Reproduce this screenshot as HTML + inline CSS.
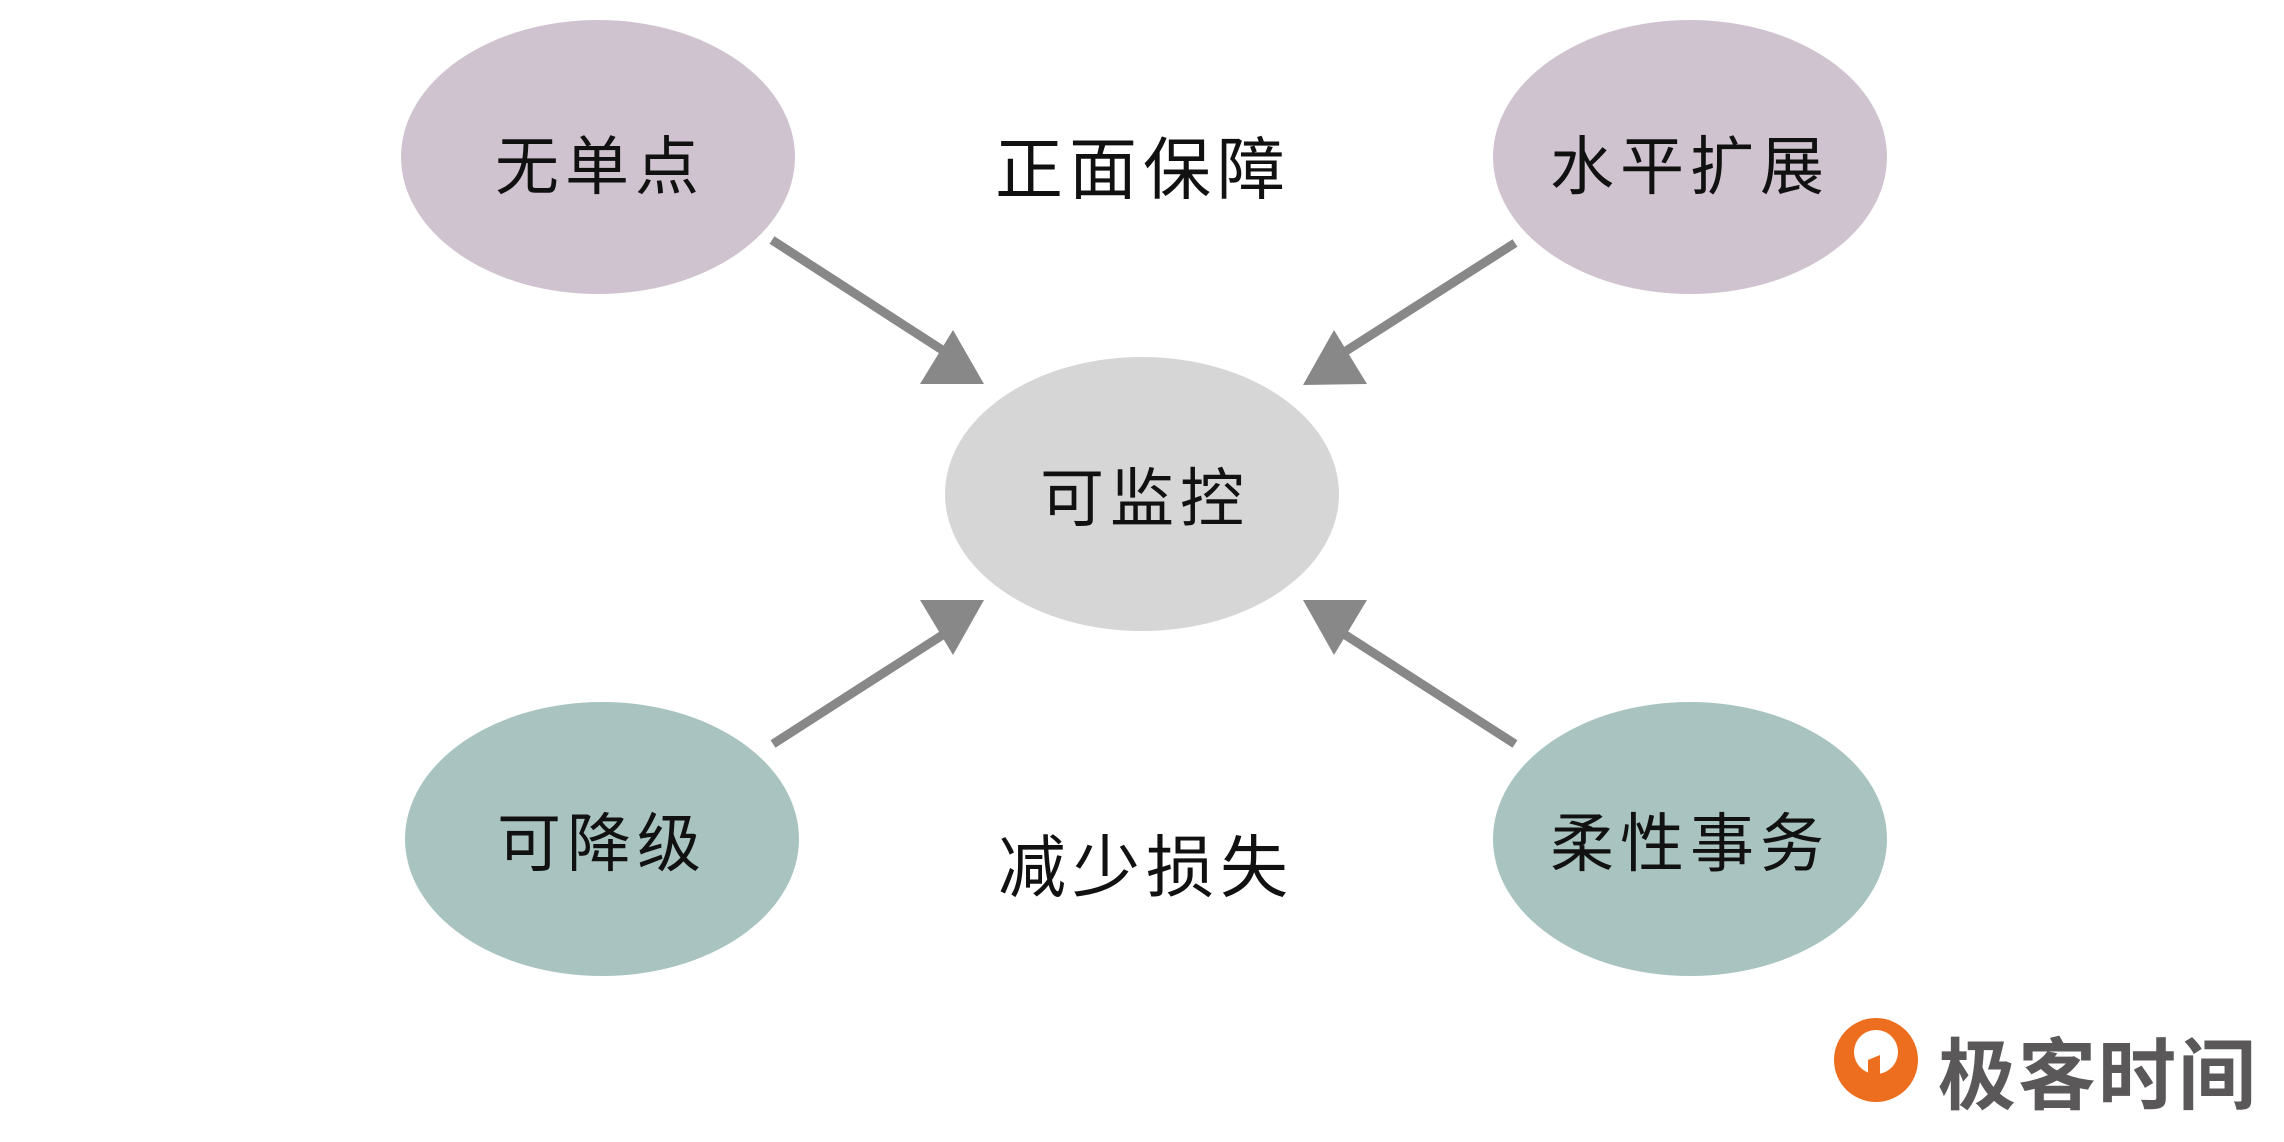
<!DOCTYPE html>
<html><head><meta charset="utf-8"><style>
html,body{margin:0;padding:0;background:#fff;}
body{width:2284px;height:1142px;position:relative;overflow:hidden;font-family:"Liberation Sans","Noto Sans CJK SC",sans-serif;}
.t{position:absolute;transform:translate(-50%,-50%);white-space:nowrap;color:#111;font-size:64px;letter-spacing:6px;}
</style></head><body>
<svg width="2284" height="1142" style="position:absolute;left:0;top:0">
<ellipse cx="598" cy="157" rx="197" ry="137" fill="#d0c3d0"/>
<ellipse cx="1690" cy="157" rx="197" ry="137" fill="#d0c3d0"/>
<ellipse cx="1142" cy="494" rx="197" ry="137" fill="#d6d6d6"/>
<ellipse cx="602" cy="839" rx="197" ry="137" fill="#a9c4c0"/>
<ellipse cx="1690" cy="839" rx="197" ry="137" fill="#a9c4c0"/>
<g stroke="#888" stroke-width="9" fill="#888">
<line x1="772" y1="240" x2="950" y2="355"/>
<line x1="1515" y1="243" x2="1335" y2="358"/>
<line x1="773" y1="744" x2="955" y2="627"/>
<line x1="1515" y1="744" x2="1333" y2="627"/>
</g>
<g fill="#888">
<polygon points="984,384 920,384 953,330"/>
<polygon points="1303,385 1367,384 1334,330"/>
<polygon points="984,600 920,600 953,655"/>
<polygon points="1303,600 1367,600 1334,655"/>
</g>
<g>
<circle cx="1876" cy="1060" r="42" fill="#ec6e1e"/>
<circle cx="1876" cy="1052" r="22" fill="#fff"/>
<polygon points="1868,1060 1880,1055 1880,1100 1868,1100" fill="#ec6e1e"/>
</g>
</svg>
<div class="t" style="left:600px;top:162px;">无单点</div>
<div class="t" style="left:1690px;top:162px;">水平扩展</div>
<div class="t" style="left:1145px;top:494px;">可监控</div>
<div class="t" style="left:602px;top:839px;">可降级</div>
<div class="t" style="left:1690px;top:839px;">柔性事务</div>
<div class="t" style="left:1143px;top:164px;font-size:68px;">正面保障</div>
<div class="t" style="left:1146px;top:862px;font-size:68px;">减少损失</div>
<div class="t" style="left:2098px;top:1070px;font-size:78px;color:#5a5858;font-weight:bold;letter-spacing:2px;">极客时间</div>
</body></html>
